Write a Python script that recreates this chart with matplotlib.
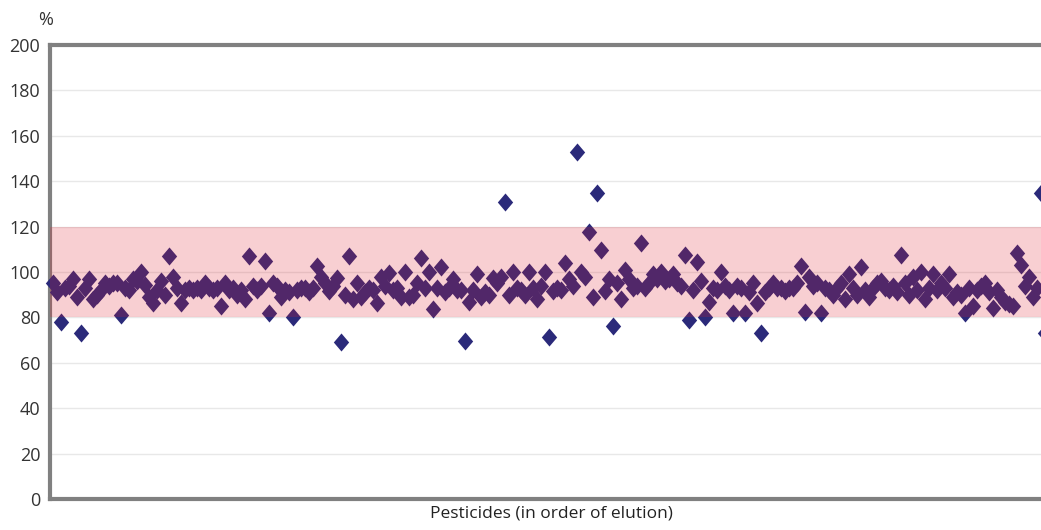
import matplotlib
matplotlib.use("Agg")
from matplotlib import pyplot as plt
import numpy as np

plt.rcParams['font.family'] = ['Open Sans', 'DejaVu Sans']

# recovery (%) per pesticide, in order of elution
recovery = [
    95, 91, 78, 93, 94, 97, 89, 73, 93, 97,
    88, 90, 92, 95, 94, 95, 95, 81, 93, 92,
    97, 96, 100, 94.5, 89, 86.5, 92, 96, 90, 107,
    98, 93, 86.5, 92, 93, 92, 93, 92, 95, 93,
    92, 93, 85, 95, 92, 93, 90, 92, 88, 107,
    94, 92, 94, 105, 82, 95, 94, 89, 92, 91,
    80, 92, 93, 93, 91, 93, 102.5, 98, 95, 91.5,
    94, 97.5, 69, 90, 107, 88, 95, 89, 91, 93,
    92, 86.5, 98, 94, 99.5, 92, 93, 89, 100, 89,
    90, 95, 106, 93, 100, 83.5, 93, 102, 91, 93,
    97, 92, 92, 69.5, 87, 92, 99, 89, 91, 90,
    97.5, 95, 98, 131, 90, 100, 93, 92, 90, 100,
    93, 88, 94, 100, 71.5, 91.5, 93, 92, 104, 97,
    94, 153, 100, 98, 117.5, 89, 135, 109.5, 91.5, 97,
    76, 95, 88, 101, 97, 93, 94, 113, 93, 95,
    99, 97, 100, 96, 97, 99, 95, 94, 107.7, 79,
    92, 104.5, 96, 80, 87, 93, 92, 100, 94, 92,
    82, 94, 93, 82, 91, 95, 86.5, 73, 91, 93,
    95, 93, 93, 91.5, 93, 93, 95, 102.5, 82.5, 98,
    94, 95, 82, 93, 92, 90, 93, 95, 88, 99,
    93, 90, 102, 92, 89, 93, 95, 96, 93, 92,
    94, 91, 107.7, 95, 90, 98, 92, 100, 88, 93,
    99, 92, 95, 93, 99, 89, 91, 90, 82, 93,
    85, 92, 94, 95, 91, 84, 92, 89, 87, 86,
    85, 108.5, 103, 94, 98, 89, 93, 135, 73,
]
order = np.arange(len(recovery))

band_low, band_high = 80, 120
yticks = list(range(0, 201, 20))

fig = plt.figure(figsize=(10.41, 5.30), dpi=100)
ax = fig.add_axes([0.048, 0.0585, 0.9626, 0.8565])

diamond = [(0, 1), (0.85, 0), (0, -1), (-0.85, 0), (0, 1)]
ax.plot(order, recovery, linestyle='none', marker=diamond, markersize=13,
        color='#2b2a7a', markeredgewidth=0, zorder=3, clip_on=False)
ax.axhspan(band_low, band_high, color=(0.886, 0.114, 0.169), alpha=0.21,
           lw=0, zorder=4)

ax.set_xlim(-0.75, 249.75)
ax.set_ylim(0, 200)
ax.set_yticks(yticks)
ax.set_xticks([])
ax.grid(axis='y', color='#e8e8e8', lw=1)
ax.set_axisbelow(True)
ax.tick_params(axis='y', length=0, pad=7, labelsize=13, labelcolor='#333333')

for side in ['left', 'top', 'bottom', 'right']:
    ax.spines[side].set_color('#808080')
    ax.spines[side].set_linewidth(3)

ax.set_xlabel("Pesticides (in order of elution)", fontsize=12.5,
              color='#222222', labelpad=5)
fig.text(0.044, 0.962, "%", fontsize=13, color='#333333', ha='center', va='center')

fig.savefig("out.png", dpi=100)
